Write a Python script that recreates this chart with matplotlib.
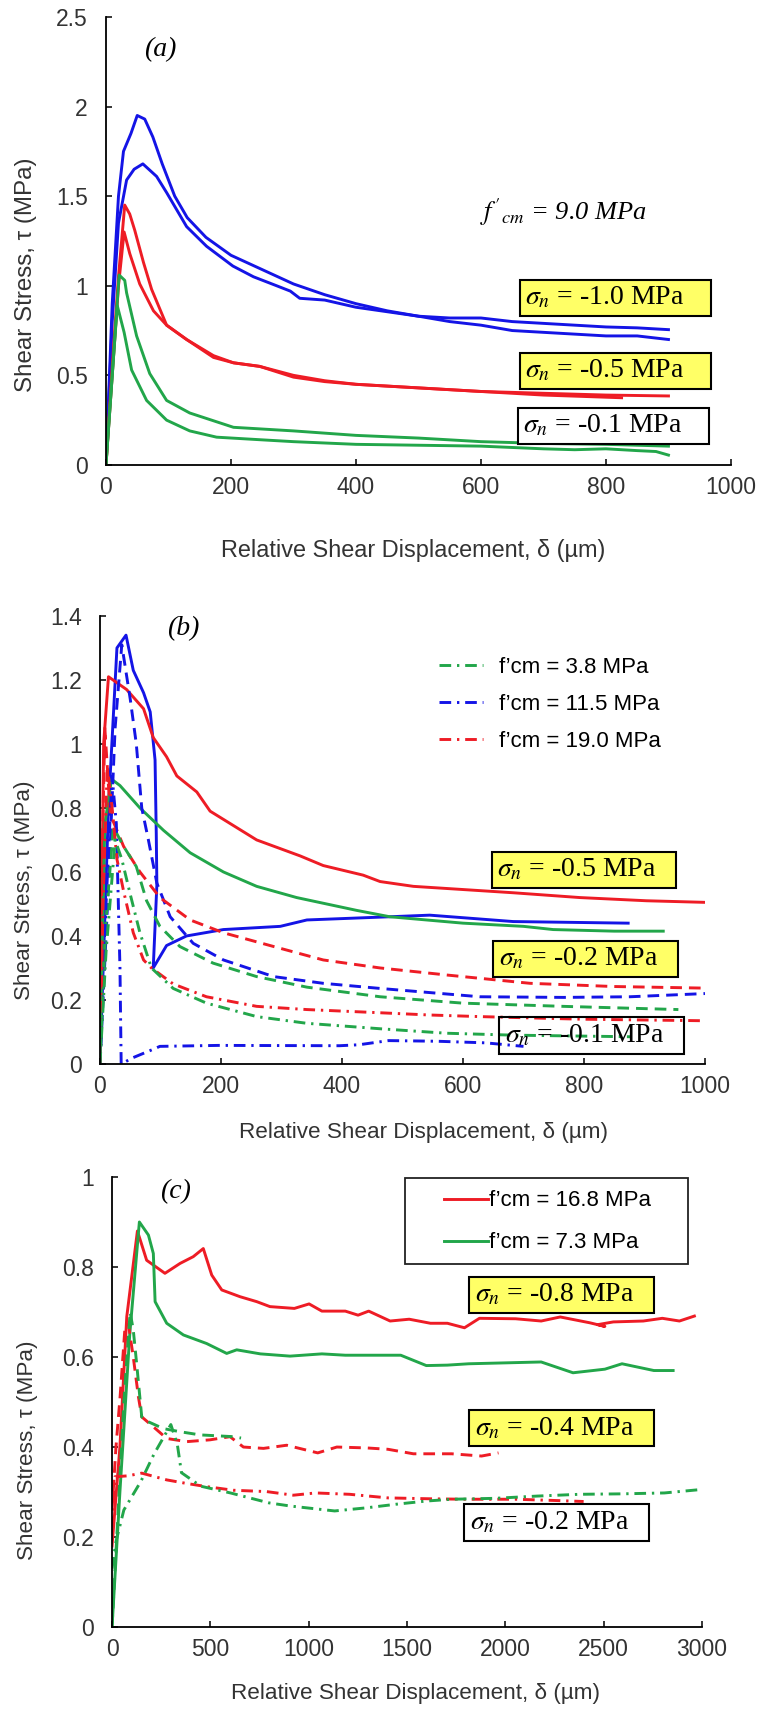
import matplotlib
matplotlib.use("Agg")
import matplotlib.pyplot as plt
from matplotlib.lines import Line2D
from matplotlib.patches import Rectangle

plt.rcParams['font.family'] = ['Liberation Sans', 'DejaVu Sans']
plt.rcParams['mathtext.fontset'] = 'stix'

RED = '#ee1c25'
BLUE = '#1414e6'
GREEN = '#22a64a'
YELLOW = '#ffff66'
TICK_COLOR = '#333333'
DASHED = (0, (4, 2.4))
DASHDOT = (0, (4, 2, 0.8, 2))

# ---------------- panel (a): f'cm = 9.0 MPa ----------------
a_blue1_x = [0, 10, 20, 28, 40, 50, 62, 75, 90, 110, 130, 160, 200, 250, 300, 350, 400, 450, 500, 550, 600, 650, 700, 750, 800, 850, 900]
a_blue1_y = [0, 0.9, 1.5, 1.75, 1.85, 1.95, 1.93, 1.83, 1.68, 1.50, 1.38, 1.27, 1.17, 1.09, 1.01, 0.95, 0.90, 0.86, 0.83, 0.80, 0.78, 0.75, 0.74, 0.73, 0.72, 0.72, 0.70]
a_blue2_x = [0, 10, 20, 33, 45, 59, 81, 97, 129, 161, 203, 236, 273, 295, 310, 350, 400, 450, 500, 550, 600, 650, 700, 750, 800, 850, 900]
a_blue2_y = [0, 0.8, 1.35, 1.59, 1.65, 1.68, 1.61, 1.52, 1.33, 1.22, 1.11, 1.05, 1.0, 0.97, 0.93, 0.92, 0.88, 0.855, 0.83, 0.82, 0.82, 0.80, 0.79, 0.78, 0.77, 0.765, 0.755]
a_red1_x = [0, 10, 20, 30, 38, 46, 60, 73, 97, 129, 172, 204, 246, 300, 350, 400, 450, 500, 600, 700, 800, 900]
a_red1_y = [0, 0.55, 1.05, 1.45, 1.40, 1.31, 1.13, 0.98, 0.78, 0.70, 0.61, 0.57, 0.55, 0.50, 0.47, 0.45, 0.44, 0.43, 0.41, 0.40, 0.39, 0.385]
a_red2_x = [0, 10, 20, 29, 38, 54, 76, 97, 129, 172, 204, 246, 300, 350, 400, 450, 500, 600, 700, 825]
a_red2_y = [0, 0.5, 1.0, 1.30, 1.18, 1.01, 0.86, 0.78, 0.70, 0.60, 0.57, 0.55, 0.49, 0.465, 0.45, 0.44, 0.43, 0.41, 0.39, 0.375]
a_green1_x = [0, 10, 21, 30, 33, 49, 70, 97, 134, 204, 300, 400, 500, 600, 700, 800, 900]
a_green1_y = [0, 0.5, 1.06, 1.03, 0.96, 0.72, 0.51, 0.36, 0.29, 0.21, 0.19, 0.165, 0.15, 0.13, 0.12, 0.115, 0.105]
a_green2_x = [0, 10, 18, 29, 41, 65, 97, 134, 177, 250, 300, 400, 500, 600, 700, 750, 800, 850, 880, 900]
a_green2_y = [0, 0.5, 0.89, 0.74, 0.53, 0.36, 0.25, 0.19, 0.155, 0.14, 0.13, 0.115, 0.11, 0.105, 0.09, 0.085, 0.09, 0.08, 0.075, 0.055]

# ---------------- panel (b): three concrete strengths ----------------
b_blue_solid_x = [0, 14, 28, 43, 55, 72, 83, 91, 93, 94, 88, 110, 143, 204, 298, 342, 479, 545, 683, 873]
b_blue_solid_y = [0, 0.8, 1.30, 1.34, 1.23, 1.16, 1.10, 0.95, 0.72, 0.56, 0.30, 0.37, 0.40, 0.42, 0.43, 0.45, 0.46, 0.465, 0.445, 0.44]
b_red_solid_x = [0, 3, 6, 14, 44, 72, 88, 110, 127, 160, 182, 259, 331, 369, 435, 463, 518, 683, 793, 903, 1000]
b_red_solid_y = [0, 0.5, 1.0, 1.21, 1.17, 1.11, 1.02, 0.96, 0.90, 0.85, 0.79, 0.70, 0.65, 0.62, 0.59, 0.57, 0.555, 0.535, 0.52, 0.51, 0.505]
b_green_solid_x = [0, 4, 8, 19, 33, 66, 105, 149, 204, 259, 325, 424, 479, 600, 700, 749, 850, 931]
b_green_solid_y = [0, 0.4, 0.75, 0.89, 0.87, 0.80, 0.73, 0.66, 0.60, 0.555, 0.52, 0.48, 0.46, 0.44, 0.43, 0.42, 0.415, 0.415]

b_blue_dash_x = [0, 15, 25, 36, 50, 60, 69, 80, 94, 116, 154, 204, 287, 369, 463, 628, 766, 876, 1000]
b_blue_dash_y = [0, 0.6, 1.05, 1.31, 1.14, 1.0, 0.80, 0.70, 0.565, 0.46, 0.377, 0.325, 0.273, 0.252, 0.236, 0.21, 0.208, 0.21, 0.22]
b_red_dash_x = [0, 3, 8, 17, 39, 66, 99, 149, 204, 287, 369, 463, 573, 711, 849, 1000]
b_red_dash_y = [0, 0.6, 1.05, 0.78, 0.68, 0.60, 0.52, 0.45, 0.41, 0.367, 0.325, 0.30, 0.278, 0.252, 0.242, 0.237]
b_green_dash_x = [0, 10, 22, 39, 60, 77, 99, 132, 187, 259, 342, 463, 600, 766, 956]
b_green_dash_y = [0, 0.45, 0.74, 0.68, 0.617, 0.51, 0.43, 0.367, 0.315, 0.273, 0.24, 0.21, 0.19, 0.18, 0.17]

b_blue_dd_x = [0, 10, 20, 27, 33, 35, 55, 83, 99, 196, 396, 428, 477, 557, 637, 700]
b_blue_dd_y = [0, 0.5, 0.9, 0.75, 0.3, 0.0, 0.02, 0.042, 0.055, 0.058, 0.057, 0.06, 0.073, 0.071, 0.066, 0.055]
b_red_dd_x = [0, 5, 12, 20, 28, 39, 55, 72, 85, 121, 176, 259, 342, 463, 545, 628, 793, 1000]
b_red_dd_y = [0, 0.5, 0.93, 0.80, 0.64, 0.54, 0.41, 0.325, 0.30, 0.25, 0.21, 0.18, 0.17, 0.16, 0.153, 0.148, 0.14, 0.135]
b_green_dd_x = [0, 10, 25, 36, 50, 66, 85, 121, 176, 259, 342, 463, 573, 683, 878]
b_green_dd_y = [0, 0.35, 0.70, 0.64, 0.53, 0.41, 0.30, 0.236, 0.19, 0.148, 0.127, 0.11, 0.096, 0.09, 0.085]
b_legend = ["f’cm = 3.8 MPa", "f’cm = 11.5 MPa", "f’cm = 19.0 MPa"]

# ---------------- panel (c): two concrete strengths ----------------
c_red_solid_x = [0, 40, 75, 129, 176, 269, 346, 413, 464, 507, 558, 651, 736, 803, 927, 1002, 1067, 1186, 1251, 1305, 1414, 1511, 1619, 1705, 1792, 1868, 2052, 2182, 2279, 2430, 2506, 2470, 2549, 2701, 2798, 2885, 2961]
c_red_solid_y = [0.18, 0.40, 0.69, 0.88, 0.815, 0.786, 0.808, 0.823, 0.841, 0.782, 0.749, 0.734, 0.723, 0.712, 0.708, 0.718, 0.702, 0.702, 0.693, 0.702, 0.68, 0.684, 0.675, 0.675, 0.665, 0.686, 0.685, 0.68, 0.689, 0.676, 0.668, 0.672, 0.678, 0.68, 0.686, 0.68, 0.691]
c_green_solid_x = [0, 40, 90, 139, 185, 210, 219, 278, 363, 481, 583, 634, 754, 905, 1067, 1186, 1468, 1598, 1705, 1814, 2182, 2344, 2506, 2593, 2755, 2853]
c_green_solid_y = [0, 0.3, 0.65, 0.90, 0.871, 0.83, 0.723, 0.675, 0.649, 0.63, 0.608, 0.616, 0.607, 0.602, 0.607, 0.604, 0.604, 0.581, 0.582, 0.585, 0.589, 0.565, 0.573, 0.585, 0.57, 0.57]
c_red_dash_x = [0, 20, 41, 66, 83, 108, 134, 151, 210, 278, 380, 498, 600, 668, 770, 888, 1046, 1143, 1295, 1403, 1532, 1727, 1879, 1965]
c_red_dash_y = [0.26, 0.40, 0.512, 0.667, 0.674, 0.60, 0.512, 0.467, 0.445, 0.419, 0.412, 0.416, 0.423, 0.40, 0.397, 0.404, 0.387, 0.40, 0.398, 0.395, 0.385, 0.385, 0.38, 0.387]
c_green_dash_x = [0, 30, 60, 92, 108, 125, 151, 185, 261, 346, 447, 617, 656]
c_green_dash_y = [0, 0.25, 0.50, 0.70, 0.66, 0.586, 0.467, 0.456, 0.441, 0.434, 0.427, 0.423, 0.42]
c_red_dd_x = [0, 15, 80, 151, 278, 380, 481, 617, 786, 922, 1035, 1208, 1403, 1619, 1792, 2052, 2268, 2398]
c_red_dd_y = [0.22, 0.334, 0.336, 0.342, 0.327, 0.319, 0.312, 0.304, 0.301, 0.293, 0.298, 0.295, 0.287, 0.285, 0.284, 0.284, 0.281, 0.279]
c_green_dd_x = [0, 20, 60, 147, 213, 299, 332, 353, 451, 602, 797, 905, 1132, 1295, 1446, 1598, 1727, 1944, 2160, 2377, 2593, 2809, 3004]
c_green_dd_y = [0.13, 0.19, 0.26, 0.324, 0.384, 0.45, 0.406, 0.343, 0.313, 0.298, 0.276, 0.269, 0.258, 0.265, 0.273, 0.28, 0.284, 0.286, 0.291, 0.295, 0.296, 0.298, 0.306]
c_legend = ["f’cm = 16.8 MPa", "f’cm = 7.3 MPa"]

LW = 2.1


def style_axes(ax, xlim, ylim, xticks, yticks, ylab_xy, xlab_xy, ylab_size, xlab_size):
    ax.set_xlim(*xlim)
    ax.set_ylim(*ylim)
    ax.set_xticks(xticks)
    ax.set_yticks(yticks)
    ax.set_yticklabels([f"{t:g}" for t in yticks])
    for s in ('top', 'right'):
        ax.spines[s].set_visible(False)
    for s in ('left', 'bottom'):
        ax.spines[s].set_linewidth(1.3)
    ax.tick_params(direction='in', length=4, width=1.1, labelsize=16.5, labelcolor=TICK_COLOR)
    ax.tick_params(axis='y', pad=13)
    ax.tick_params(axis='x', pad=8)
    ax.set_ylabel("Shear Stress, τ (MPa)", fontsize=ylab_size, color=TICK_COLOR)
    ax.set_xlabel("Relative Shear Displacement, δ (µm)", fontsize=xlab_size, color=TICK_COLOR)
    ax.yaxis.set_label_coords(*ylab_xy)
    ax.xaxis.set_label_coords(*xlab_xy)


def sigma_box(ax, x, y, txt, face):
    ax.text(x, y, r"$\sigma_n$" + txt, family='Liberation Serif', fontsize=20,
            ha='left', va='center',
            bbox=dict(boxstyle='square,pad=0.2', fc=face, ec='black', lw=1.5))


fig = plt.figure(figsize=(7.57, 17.10), dpi=100)

# (a)
ax = fig.add_axes([0.1400, 0.7281, 0.8256, 0.2620])
ax.plot(a_blue1_x, a_blue1_y, color=BLUE, lw=LW)
ax.plot(a_blue2_x, a_blue2_y, color=BLUE, lw=LW)
ax.plot(a_red1_x, a_red1_y, color=RED, lw=LW)
ax.plot(a_red2_x, a_red2_y, color=RED, lw=LW)
ax.plot(a_green1_x, a_green1_y, color=GREEN, lw=LW)
ax.plot(a_green2_x, a_green2_y, color=GREEN, lw=LW)
style_axes(ax, (0, 1000), (0, 2.5), range(0, 1001, 200), [0, 0.5, 1, 1.5, 2, 2.5],
           (-0.11, 0.424), (0.491, -0.165), 17.4, 16.9)
ax.text(86, 2.32, '(a)', family='Liberation Serif', style='italic', fontsize=20, ha='center', va='center')
ax.text(731, 1.41, r"$f'_{cm}$ = 9.0 MPa", family='Liberation Serif', style='italic',
        fontsize=19, ha='center', va='center')
sigma_box(ax, 671, 0.932, " = -1.0 MPa    ", YELLOW)
sigma_box(ax, 671, 0.525, " = -0.5 MPa    ", YELLOW)
sigma_box(ax, 668, 0.218, " = -0.1 MPa    ", 'white')

# (b)
ax = fig.add_axes([0.1321, 0.3778, 0.7992, 0.2620])
ax.plot(b_blue_solid_x, b_blue_solid_y, color=BLUE, lw=LW)
ax.plot(b_red_solid_x, b_red_solid_y, color=RED, lw=LW)
ax.plot(b_green_solid_x, b_green_solid_y, color=GREEN, lw=LW)
ax.plot(b_blue_dash_x, b_blue_dash_y, color=BLUE, lw=LW, ls=DASHED)
ax.plot(b_red_dash_x, b_red_dash_y, color=RED, lw=LW, ls=DASHED)
ax.plot(b_green_dash_x, b_green_dash_y, color=GREEN, lw=LW, ls=DASHED)
ax.plot(b_blue_dd_x, b_blue_dd_y, color=BLUE, lw=LW, ls=DASHDOT)
ax.plot(b_red_dd_x, b_red_dd_y, color=RED, lw=LW, ls=DASHDOT)
ax.plot(b_green_dd_x, b_green_dd_y, color=GREEN, lw=LW, ls=DASHDOT)
style_axes(ax, (0, 1000), (0, 1.4), range(0, 1001, 200), [0, 0.2, 0.4, 0.6, 0.8, 1, 1.2, 1.4],
           (-0.107, 0.388), (0.534, -0.13), 16.2, 16.2)
ax.text(137, 1.36, '(b)', family='Liberation Serif', style='italic', fontsize=20, ha='center', va='center')
handles = [Line2D([], [], color=c, lw=LW, ls=DASHDOT) for c in (GREEN, BLUE, RED)]
ax.legend(handles, b_legend, loc='upper left', bbox_to_anchor=(0.545, 0.929), frameon=False,
          fontsize=16, handlelength=2.0, handletextpad=0.7, labelspacing=0.72,
          borderaxespad=0, borderpad=0.4)
sigma_box(ax, 657, 0.606, " = -0.5 MPa   ", YELLOW)
sigma_box(ax, 659, 0.328, " = -0.2 MPa   ", YELLOW)
sigma_box(ax, 669, 0.090, " = -0.1 MPa   ", 'none')

# (c)
ax = fig.add_axes([0.1480, 0.0485, 0.7794, 0.2632])
ax.plot(c_red_solid_x, c_red_solid_y, color=RED, lw=LW)
ax.plot(c_green_solid_x, c_green_solid_y, color=GREEN, lw=LW)
ax.plot(c_red_dash_x, c_red_dash_y, color=RED, lw=LW, ls=DASHED)
ax.plot(c_green_dash_x, c_green_dash_y, color=GREEN, lw=LW, ls=DASHED)
ax.plot(c_red_dd_x, c_red_dd_y, color=RED, lw=LW, ls=DASHDOT)
ax.plot(c_green_dd_x, c_green_dd_y, color=GREEN, lw=LW, ls=DASHDOT)
style_axes(ax, (0, 3000), (0, 1), range(0, 3001, 500), [0, 0.2, 0.4, 0.6, 0.8, 1],
           (-0.125, 0.393), (0.514, -0.125), 16.2, 16.2)
ax.text(320, 0.967, '(c)', family='Liberation Serif', style='italic', fontsize=20, ha='center', va='center')
handles = [Line2D([], [], color=c, lw=LW) for c in (RED, GREEN)]
ax.legend(handles, c_legend, loc='upper left', bbox_to_anchor=(0.547, 0.99), frameon=False,
          fontsize=16, handlelength=2.0, handletextpad=0.05, labelspacing=0.95,
          borderaxespad=0, borderpad=0.4)
ax.add_patch(Rectangle((0.497, 0.807), 0.479, 0.191, transform=ax.transAxes,
                       fill=False, ec='#222222', lw=1.3, clip_on=False))
sigma_box(ax, 1844, 0.738, " = -0.8 MPa   ", YELLOW)
sigma_box(ax, 1844, 0.442, " = -0.4 MPa   ", YELLOW)
sigma_box(ax, 1818, 0.233, " = -0.2 MPa   ", 'white')

fig.savefig("out.png", dpi=100, facecolor='white')
